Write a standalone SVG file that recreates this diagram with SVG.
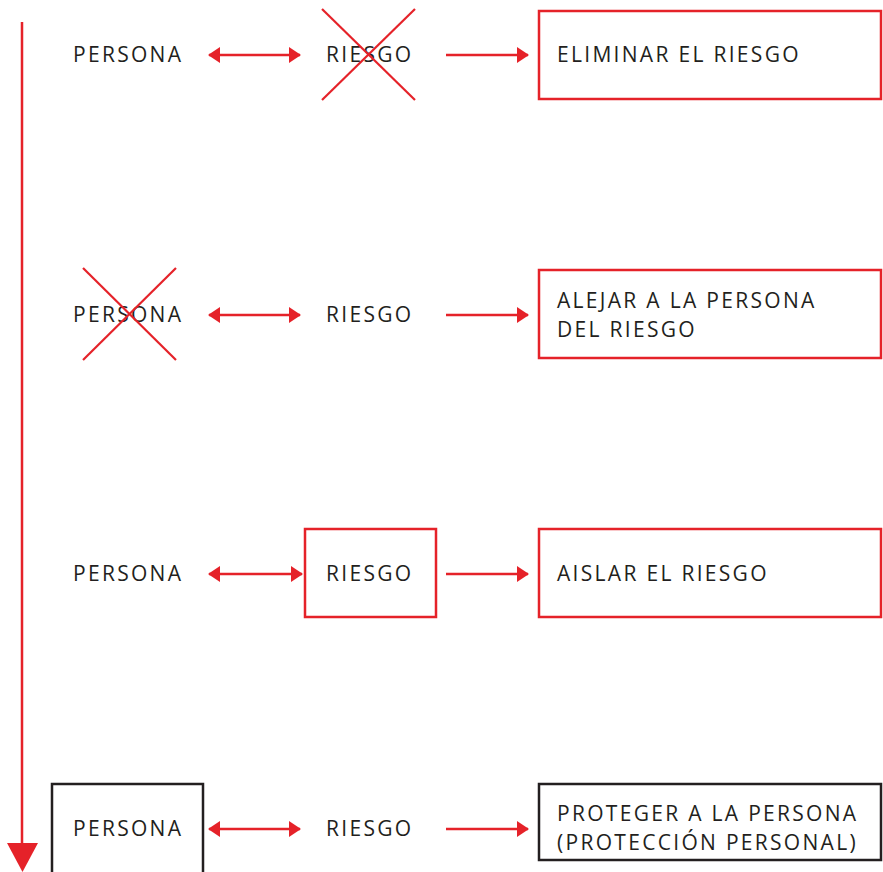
<svg xmlns="http://www.w3.org/2000/svg" width="883" height="872" viewBox="0 0 883 872">
<defs>
<style>
.t{font-family:"Open Sans","Noto Sans","Liberation Sans",sans-serif;font-size:21px;fill:#231f20;letter-spacing:2.3px}
.rb{fill:none;stroke:#e52229;stroke-width:2.5}
.kb{fill:none;stroke:#231f20;stroke-width:2.5}
.ln{fill:none;stroke:#e52229;stroke-width:2.5}
.x{stroke:#e52229;stroke-width:2.2}
</style>
<marker id="ah" viewBox="0 0 12 16" refX="11" refY="8" markerWidth="12" markerHeight="16" orient="auto-start-reverse" markerUnits="userSpaceOnUse">
<path d="M0,0 L12,8 L0,16 z" fill="#e52229"/>
</marker>
</defs>
<rect width="883" height="872" fill="#fff"/>
<g id="connectors">
<line class="ln" x1="22" y1="22" x2="22" y2="845"/>
<polygon points="7,843 38,843 22.5,872" fill="#e52229"/>
<line class="ln" x1="209" y1="55" x2="300" y2="55" marker-start="url(#ah)" marker-end="url(#ah)"/>
<line class="ln" x1="446" y1="55" x2="528" y2="55" marker-end="url(#ah)"/>
<line class="ln" x1="209" y1="315" x2="300" y2="315" marker-start="url(#ah)" marker-end="url(#ah)"/>
<line class="ln" x1="446" y1="315" x2="528" y2="315" marker-end="url(#ah)"/>
<line class="ln" x1="209" y1="574" x2="302" y2="574" marker-start="url(#ah)" marker-end="url(#ah)"/>
<line class="ln" x1="446" y1="574" x2="528" y2="574" marker-end="url(#ah)"/>
<line class="ln" x1="209" y1="829" x2="300" y2="829" marker-start="url(#ah)" marker-end="url(#ah)"/>
<line class="ln" x1="446" y1="829" x2="528" y2="829" marker-end="url(#ah)"/>
</g>
<g id="r1-persona"><text class="t" x="73" y="62">PERSONA</text></g>
<g id="r1-riesgo"><text class="t" x="326" y="62">RIESGO</text>
<line class="x" x1="322" y1="9" x2="415" y2="100"/><line class="x" x1="415" y1="9" x2="322" y2="100"/></g>
<g id="r1-result"><rect class="rb" x="539" y="11" width="342" height="88"/><text class="t" x="557" y="62">ELIMINAR EL RIESGO</text></g>
<g id="r2-persona"><text class="t" x="73" y="322">PERSONA</text>
<line class="x" x1="83" y1="268" x2="176" y2="360"/><line class="x" x1="176" y1="268" x2="83" y2="360"/></g>
<g id="r2-riesgo"><text class="t" x="326" y="322">RIESGO</text></g>
<g id="r2-result"><rect class="rb" x="539" y="270" width="342" height="88"/><text class="t" x="557" y="308">ALEJAR A LA PERSONA</text><text class="t" x="557" y="337">DEL RIESGO</text></g>
<g id="r3-persona"><text class="t" x="73" y="581">PERSONA</text></g>
<g id="r3-riesgo"><rect class="rb" x="305" y="529" width="131" height="88"/><text class="t" x="326" y="581">RIESGO</text></g>
<g id="r3-result"><rect class="rb" x="539" y="529" width="342" height="88"/><text class="t" x="557" y="581">AISLAR EL RIESGO</text></g>
<g id="r4-persona"><rect class="kb" x="52" y="784" width="151" height="92"/><text class="t" x="73" y="836">PERSONA</text></g>
<g id="r4-riesgo"><text class="t" x="326" y="836">RIESGO</text></g>
<g id="r4-result"><rect class="kb" x="539" y="784" width="342" height="76"/><text class="t" x="557" y="821">PROTEGER A LA PERSONA</text><text class="t" x="557" y="850">(PROTECCIÓN PERSONAL)</text></g>
</svg>
